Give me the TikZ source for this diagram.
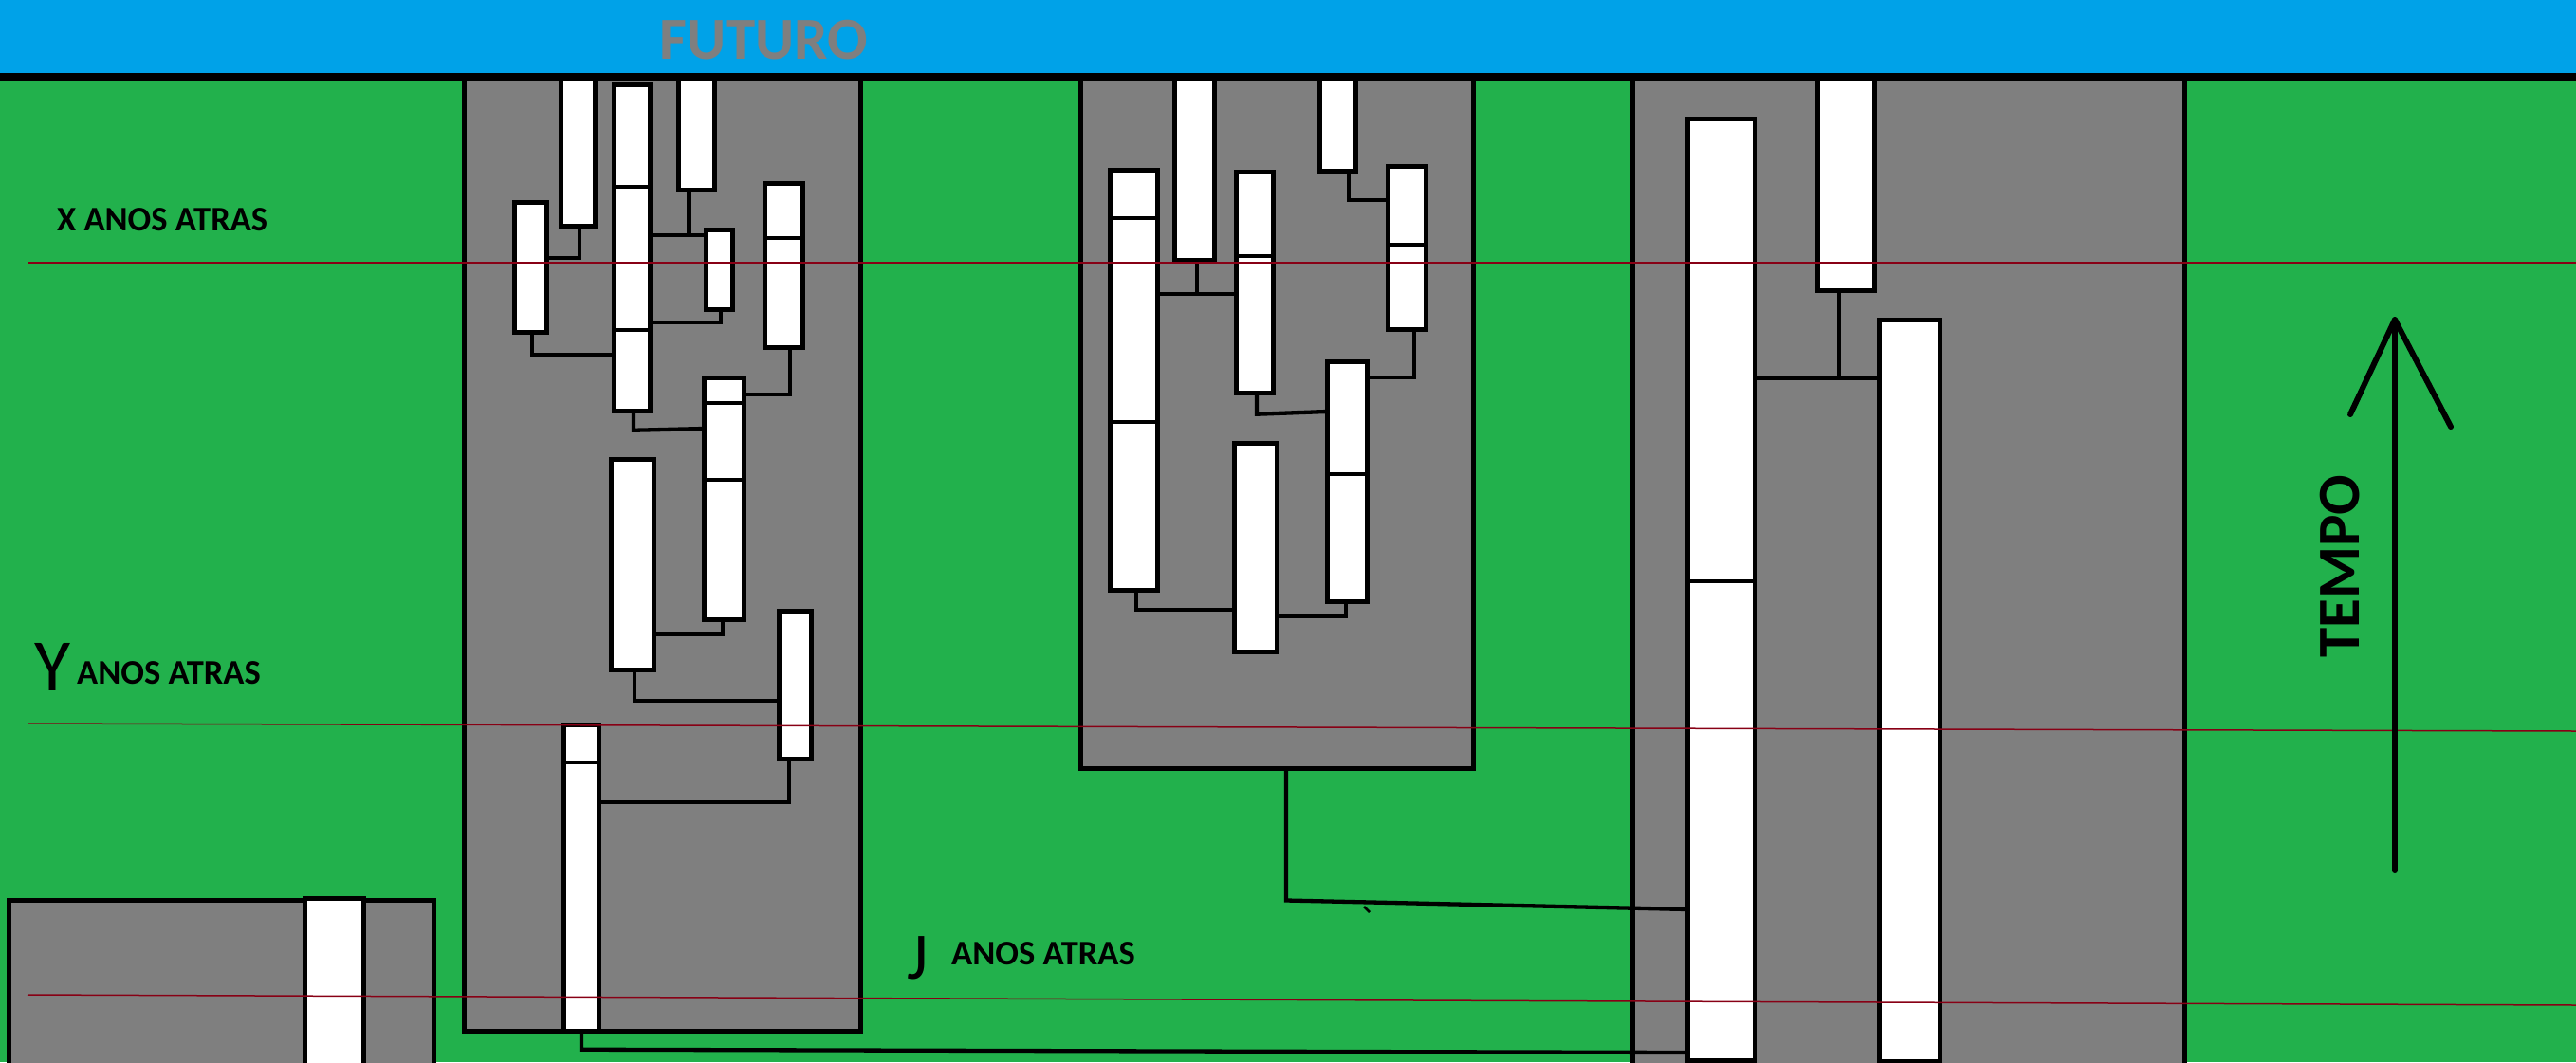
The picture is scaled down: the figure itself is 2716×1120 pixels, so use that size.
\documentclass[tikz,border=0pt]{standalone}
\usepackage{fontspec}
\setmainfont{Carlito}
\usetikzlibrary{calc}
\definecolor{skyb}{HTML}{00A2E8}
\definecolor{grass}{HTML}{22B14C}
\definecolor{panelgray}{HTML}{7F7F7F}
\definecolor{darkred}{HTML}{880015}
\newcommand\wbar[5]{\node[wbar,minimum width={#4-#2-4.5},minimum height={#5-#3-4.5}] (#1) at ({(#2+#4)/2},{(#3+#5)/2}) {};}
\newcommand\gpanel[5]{\node[gpanel,minimum width={#4-#2-5},minimum height={#5-#3-5}] (#1) at ({(#2+#4)/2},{(#3+#5)/2}) {};}
\newcommand\divline[2]{\draw[divl] (#1.west |- 0,#2) -- (#1.east |- 0,#2);}
\tikzset{
  wbar/.style={draw=black,fill=white,line width=4.8pt,inner sep=0pt,outer sep=0pt,rectangle},
  gpanel/.style={draw=black,fill=panelgray,line width=5pt,inner sep=0pt,outer sep=0pt,rectangle},
  divl/.style={line width=4.5pt},
  conn/.style={line width=4.3pt,line join=miter},
  redline/.style={draw=darkred,line width=1.5pt},
  lbl/.style={inner sep=0pt,anchor=base west,text=black,font=\fontsize{36.5}{36.5}\selectfont\bfseries},
  hand/.style={inner sep=0pt,anchor=base west,text=black},
  arrowline/.style={line width=6pt,line cap=round,line join=round}
}
\begin{document}
\begin{tikzpicture}[x=1pt,y=-1pt]
\useasboundingbox (0,0) rectangle (2716,1120);
\clip (0,0) rectangle (2716,1120);
% background
\fill[grass] (0,0) rectangle (2716,1120);
\fill[skyb] (0,0) rectangle (2716,77);
% panels
\gpanel{pA}{7}{947}{460}{1140}
\gpanel{pB}{487}{80}{910}{1090}
\gpanel{pC}{1137}{80}{1556}{813}
\gpanel{pD}{1719}{80}{2306}{1140}
% panel A bar
\wbar{a1}{319}{945}{386}{1140}
% panel B bars
\wbar{b1}{589}{78}{630}{241}
\wbar{b2}{645}{87}{688}{436}
\wbar{b3}{713}{78}{756}{203}
\wbar{b4}{540}{211}{579}{353}
\wbar{b5}{742}{240}{775}{329}
\wbar{b6}{804}{191}{849}{369}
\wbar{b7}{740}{396}{787}{656}
\wbar{b8}{642}{482}{692}{709}
\wbar{b9}{819}{642}{858}{803}
\wbar{b10}{592}{762}{634}{1090}
\divline{b2}{197}
\divline{b2}{348}
\divline{b6}{251}
\divline{b7}{425}
\divline{b7}{506}
\divline{b10}{804}
% panel C bars
\wbar{c1}{1168}{177}{1223}{625}
\wbar{c2}{1236}{78}{1283}{277}
\wbar{c3}{1301}{179}{1345}{417}
\wbar{c4}{1389}{78}{1432}{183}
\wbar{c5}{1461}{173}{1506}{350}
\wbar{c6}{1397}{379}{1444}{637}
\wbar{c7}{1299}{465}{1349}{690}
\divline{c1}{230}
\divline{c1}{445}
\divline{c3}{270}
\divline{c5}{258}
\divline{c6}{500}
% panel D bars
\wbar{d1}{1777}{123}{1853}{1121}
\wbar{d2}{1914}{78}{1979}{309}
\wbar{d3}{1979}{335}{2048}{1122}
\divline{d1}{613}
% connectors panel B
\draw[conn] ([xshift=1.5pt]b1.south) |- (b4.east |- 0,272);
\draw[conn] ([xshift=-8pt]b3.south) |- (b5.west |- 0,248);
\draw[conn] (b2.east |- 0,248) -- (b5.west |- 0,248);
\draw[conn] ([xshift=1.5pt]b5.south) |- (b2.east |- 0,340);
\draw[conn] ([xshift=1.5pt]b4.south) |- (b2.west |- 0,374);
\draw[conn] ([xshift=6.5pt]b6.south) |- (b7.east |- 0,416);
\draw[conn] ([xshift=1.5pt]b2.south) -- ++(0,20) -- (b7.west |- 0,452);
\draw[conn] ([xshift=-1.5pt]b7.south) |- (b8.east |- 0,669);
\draw[conn] ([xshift=2pt]b8.south) |- (b9.west |- 0,739);
\draw[conn] ([xshift=-6.5pt]b9.south) |- (b10.east |- 0,846);
\draw[conn] (b10.south) -- ++(0,19) -- (d1.west |- 0,1110);
% connectors panel C
\draw[conn] ([xshift=2.5pt]c2.south) -- ++(0,35);
\draw[conn] (c1.east |- 0,310) -- (c3.west |- 0,310);
\draw[conn] ([xshift=11.5pt]c4.south) |- (c5.west |- 0,211);
\draw[conn] ([xshift=2pt]c3.south) -- ++(0,22) -- (c6.west |- 0,434);
\draw[conn] ([xshift=7.5pt]c5.south) |- (c6.east |- 0,398);
\draw[conn] ([xshift=2.5pt]c1.south) |- (c7.west |- 0,643);
\draw[conn] ([xshift=-1.5pt]c6.south) |- (c7.east |- 0,650);
\draw[conn] ([xshift=9.5pt]pC.south) -- ++(0,139) -- (d1.west |- 0,959);
\draw[line width=2.5pt] (1438,956) -- (1444,962);
% connectors panel D
\draw[conn] ([xshift=-7.5pt]d2.south) -- ++(0,92);
\draw[conn] (d1.east |- 0,399) -- (d3.west |- 0,399);
% top black line
\fill[black] (0,76.5) rectangle (2716,84.5);
% red time lines
\draw[redline] (29,277) -- (2716,277);
\draw[redline] (29,763) -- (2716,771);
\draw[redline] (29,1049) -- (2716,1060);
% texts
\node[inner sep=0pt,anchor=base west,text=panelgray,font=\fontsize{63}{63}\selectfont\bfseries] (fut) at (695,62) {FUTURO};
\node[lbl] (xlbl) at (60,243) {X ANOS ATRAS};
\node[hand,font=\fontsize{78}{78}\selectfont] (yhand) at (36,728) {Y};
\node[lbl] (ylbl) at (81,721) {ANOS ATRAS};
\node[hand,font=\fontsize{70}{70}\selectfont] (jhand) at (956,1032) {J};
\node[lbl] (jlbl) at (1003,1017) {ANOS ATRAS};
\node[inner sep=0pt,anchor=base west,rotate=90,text=black,font=\fontsize{63}{63}\selectfont\bfseries] (tempo) at (2487,694) {TEMPO};
% time arrow
\coordinate (arrB) at (2525,918);
\coordinate (arrT) at (2525,337);
\coordinate (arrL) at (2478,437);
\coordinate (arrR) at (2584,450);
\draw[arrowline] (arrB) -- (arrT);
\draw[arrowline] (arrL) -- (arrT) -- (arrR);
\end{tikzpicture}
\end{document}
